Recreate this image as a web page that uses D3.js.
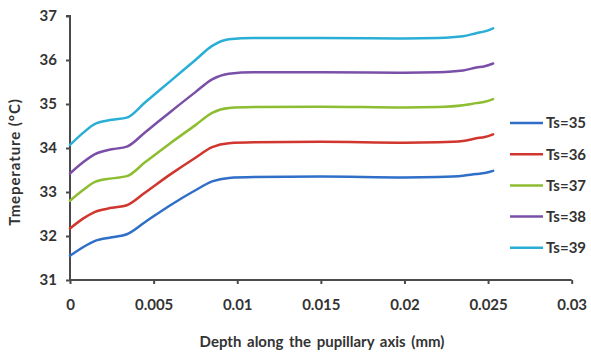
<!DOCTYPE html>
<html>
<head>
<meta charset="utf-8">
<script src="https://cdn.jsdelivr.net/npm/d3@7"></script>
<style>
  html, body { margin: 0; padding: 0; background: #fff; }
  svg { display: block; }
  text { font-family: Lato, "Open Sans", sans-serif; font-weight: 700; fill: #333; }
</style>
</head>
<body>
<svg id="chart" width="591" height="354"></svg>
<script>
// Depth along the pupillary axis (mm)
const depth = [0, 0.0008, 0.0015, 0.0025, 0.0034, 0.0045, 0.006, 0.0075, 0.0085, 0.0095,
               0.011, 0.015, 0.02, 0.022, 0.0235, 0.0243, 0.0248, 0.0253];

// Temperature (°C) per surrounding temperature Ts
const ts35 = [31.55, 31.75, 31.89, 31.97, 32.04, 32.32, 32.70, 33.04, 33.24, 33.32,
              33.34, 33.35, 33.33, 33.34, 33.37, 33.41, 33.43, 33.48];
const ts36 = [32.17, 32.40, 32.55, 32.64, 32.70, 32.99, 33.40, 33.78, 34.02, 34.11,
              34.13, 34.14, 34.12, 34.13, 34.16, 34.22, 34.25, 34.31];
const ts37 = [32.80, 33.05, 33.23, 33.31, 33.36, 33.68, 34.11, 34.52, 34.80, 34.91,
              34.93, 34.94, 34.92, 34.93, 34.97, 35.02, 35.05, 35.11];
const ts38 = [33.42, 33.68, 33.86, 33.97, 34.03, 34.36, 34.82, 35.27, 35.56, 35.69,
              35.72, 35.72, 35.71, 35.72, 35.76, 35.83, 35.86, 35.92];
const ts39 = [34.07, 34.35, 34.55, 34.64, 34.69, 35.04, 35.52, 36.00, 36.32, 36.47,
              36.50, 36.50, 36.49, 36.50, 36.54, 36.61, 36.65, 36.72];

const seriesNames = ["Ts=35", "Ts=36", "Ts=37", "Ts=38", "Ts=39"];
const seriesValues = [ts35, ts36, ts37, ts38, ts39];
const seriesColors = ["#2f6fc8", "#d0362e", "#8dbd30", "#7a4fa8", "#2aaed6"];

const xTicks = [0, 0.005, 0.01, 0.015, 0.02, 0.025, 0.03];
const xTickLabels = ["0", "0.005", "0.01", "0.015", "0.02", "0.025", "0.03"];
const yTicks = [31, 32, 33, 34, 35, 36, 37];

const svg = d3.select("#chart");
const axisColor = "#4a4a4a";
const textColor = "#333";

const x = d3.scaleLinear().domain([0, 0.03]).range([70, 571.7]);
const y = d3.scaleLinear().domain([31, 37]).range([280, 16]);

// Y axis
const yAxis = svg.append("g")
  .attr("transform", `translate(${x(0)},0)`)
  .call(d3.axisLeft(y).tickValues(yTicks).tickSize(4).tickPadding(9).tickFormat(d3.format("d")));
yAxis.select(".domain").attr("stroke", axisColor).attr("stroke-width", 2).attr("d", `M-4,${y(37)}H0V${y(31)}`);
yAxis.selectAll(".tick line").attr("stroke", axisColor).attr("stroke-width", 2);
yAxis.selectAll(".tick text").attr("font-size", 15).attr("fill", textColor)
  .attr("font-family", "Lato, sans-serif").attr("font-weight", 700);

// X axis
const xAxis = svg.append("g")
  .attr("transform", `translate(0,${y(31)})`)
  .call(d3.axisBottom(x).tickValues(xTicks).tickSize(4).tickPadding(15)
        .tickFormat((d, i) => xTickLabels[i]));
xAxis.select(".domain").attr("stroke", axisColor).attr("stroke-width", 2)
  .attr("d", `M${x(0)},0H${x(0.03)}`);
xAxis.selectAll(".tick line").attr("stroke", axisColor).attr("stroke-width", 2);
xAxis.selectAll(".tick text").attr("font-size", 15).attr("fill", textColor)
  .attr("font-family", "Lato, sans-serif").attr("font-weight", 700);

// Series lines
const line = d3.line()
  .x((d, i) => x(depth[i]))
  .y(d => y(d))
  .curve(d3.curveMonotoneX);

svg.append("g").selectAll("path")
  .data(seriesValues)
  .join("path")
  .attr("d", d => line(d))
  .attr("fill", "none")
  .attr("stroke", (d, i) => seriesColors[i])
  .attr("stroke-width", 2.5)
  .attr("stroke-linejoin", "round")
  .attr("stroke-linecap", "round");

// Legend
const legend = svg.append("g").attr("transform", "translate(510,123)");
const rows = legend.selectAll("g")
  .data(seriesNames)
  .join("g")
  .attr("transform", (d, i) => `translate(0,${i * 31.2})`);
rows.append("line")
  .attr("x1", 0).attr("x2", 33)
  .attr("stroke", (d, i) => seriesColors[i])
  .attr("stroke-width", 2.5);
rows.append("text")
  .attr("x", 36).attr("dy", "0.36em")
  .attr("font-size", 15)
  .text(d => d);

// Axis titles
svg.append("text")
  .attr("x", 322).attr("y", 347)
  .attr("text-anchor", "middle")
  .attr("font-size", 15)
  .attr("word-spacing", 2)
  .text("Depth along the pupillary axis (mm)");

svg.append("text")
  .attr("transform", "translate(20,162) rotate(-90)")
  .attr("text-anchor", "middle")
  .attr("font-size", 15)
  .attr("letter-spacing", 0.9)
  .text("Tmeperature (°C)");
</script>
</body>
</html>
